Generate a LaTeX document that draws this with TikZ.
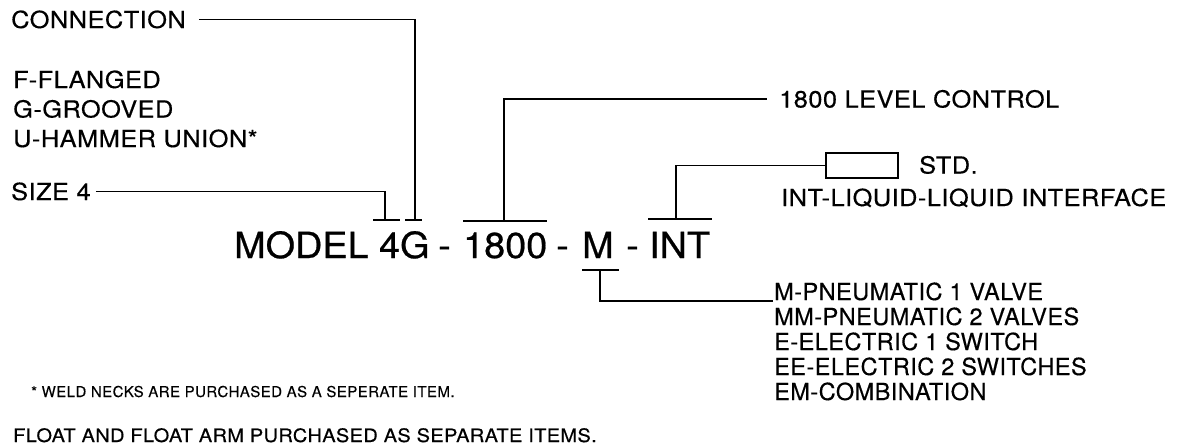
\documentclass[tikz,border=0pt]{standalone}
\usepackage{fontspec}
\newfontfamily\lblfont{TeX Gyre Heros}[FakeStretch=1.08,LetterSpace=2,FakeBold=0.4]
\newfontfamily\mfont{TeX Gyre Heros}[FakeStretch=1.0,LetterSpace=2,FakeBold=0.4]
\newfontfamily\smfont{TeX Gyre Heros}[FakeStretch=1.0,LetterSpace=3,FakeBold=0.3]
\newfontfamily\bigfont{TeX Gyre Heros}[FakeStretch=1.05,FakeBold=0.6]
\begin{document}
\begin{tikzpicture}[x=1pt,y=-1pt,
  lbl/.style={inner sep=0pt,anchor=base west,font=\lblfont\fontsize{23.5}{27}\selectfont},
  mlbl/.style={inner sep=0pt,anchor=base west,font=\mfont\fontsize{23.5}{27}\selectfont},
  small/.style={inner sep=0pt,anchor=base west,font=\smfont\fontsize{15}{18}\selectfont},
  foot/.style={inner sep=0pt,anchor=base west,font=\lblfont\fontsize{18.5}{21}\selectfont},
  big/.style={inner sep=0pt,anchor=base west,font=\bigfont\fontsize{36}{40}\selectfont},
  ln/.style={line width=1.4pt,black}]
\path[use as bounding box] (0,0) rectangle (1196,447);
% left labels
\node[lbl] (conn) at (11,28) {CONNECTION};
\node[lbl] (ff) at (13,88) {F-FLANGED};
\node[lbl] (gg) at (13,117.5) {G-GROOVED};
\node[lbl] (uu) at (13,147) {U-HAMMER UNION*};
\node[lbl] (size) at (11,200) {SIZE 4};
% model string
\node[big] (model) at (234,258) {MODEL 4G};
\node[big] (d1) at (438,258) {-};
\node[big] (n18) at (463,258) {1800};
\node[big] (d2) at (556,258) {-};
\node[big] (mm) at (582,258) {M};
\node[big] (d3) at (626,258) {-};
\node[big] (int) at (649,258) {INT};
% right labels
\node[lbl] (lvl) at (779,107.5) {1800 LEVEL CONTROL};
\node[draw,line width=1.2pt,minimum width=72pt,minimum height=25pt,inner sep=0pt] (stdbox) at (862,165.5) {};
\node[lbl] (std) at (919,173.5) {STD.};
\node[lbl] (intl) at (781,206) {INT-LIQUID-LIQUID INTERFACE};
\node[mlbl] (mp1) at (774,300) {M-PNEUMATIC 1 VALVE};
\node[mlbl] (mp2) at (774,325) {MM-PNEUMATIC 2 VALVES};
\node[mlbl] (me1) at (774,350) {E-ELECTRIC 1 SWITCH};
\node[mlbl] (me2) at (774,375) {EE-ELECTRIC 2 SWITCHES};
\node[mlbl] (mem) at (774,400) {EM-COMBINATION};
% footnotes
\node[small] (weld) at (31,397) {* WELD NECKS ARE PURCHASED AS A SEPERATE ITEM.};
\node[foot] (float) at (13,442) {FLOAT AND FLOAT ARM PURCHASED AS SEPARATE ITEMS.};
% tee points
\coordinate (t4) at (385,220);
\coordinate (tg) at (415,220);
\coordinate (t18) at (504,221);
\coordinate (tint) at (676,219);
\coordinate (tm) at (600,270);
% tee bars
\draw[ln] ([xshift=-12pt]t4) -- ([xshift=15pt]t4);
\draw[ln] ([xshift=-10pt]tg) -- ([xshift=7pt]tg);
\draw[ln] ([xshift=-41pt]t18) -- ([xshift=43pt]t18);
\draw[ln] ([xshift=-28pt]tint) -- ([xshift=36pt]tint);
\draw[ln] ([xshift=-18pt]tm) -- ([xshift=19pt]tm);
% connectors
\draw[ln] ([xshift=13pt]conn.east) -| (tg);
\draw[ln] ([xshift=5pt]size.east) -| (t4);
\draw[ln,shorten >=12pt] (t18) |- (lvl.west);
\draw[ln] (tint) |- (stdbox.west);
\draw[ln] (tm) |- ([xshift=-1pt,yshift=-1pt]mp1.base west);
\end{tikzpicture}
\end{document}
